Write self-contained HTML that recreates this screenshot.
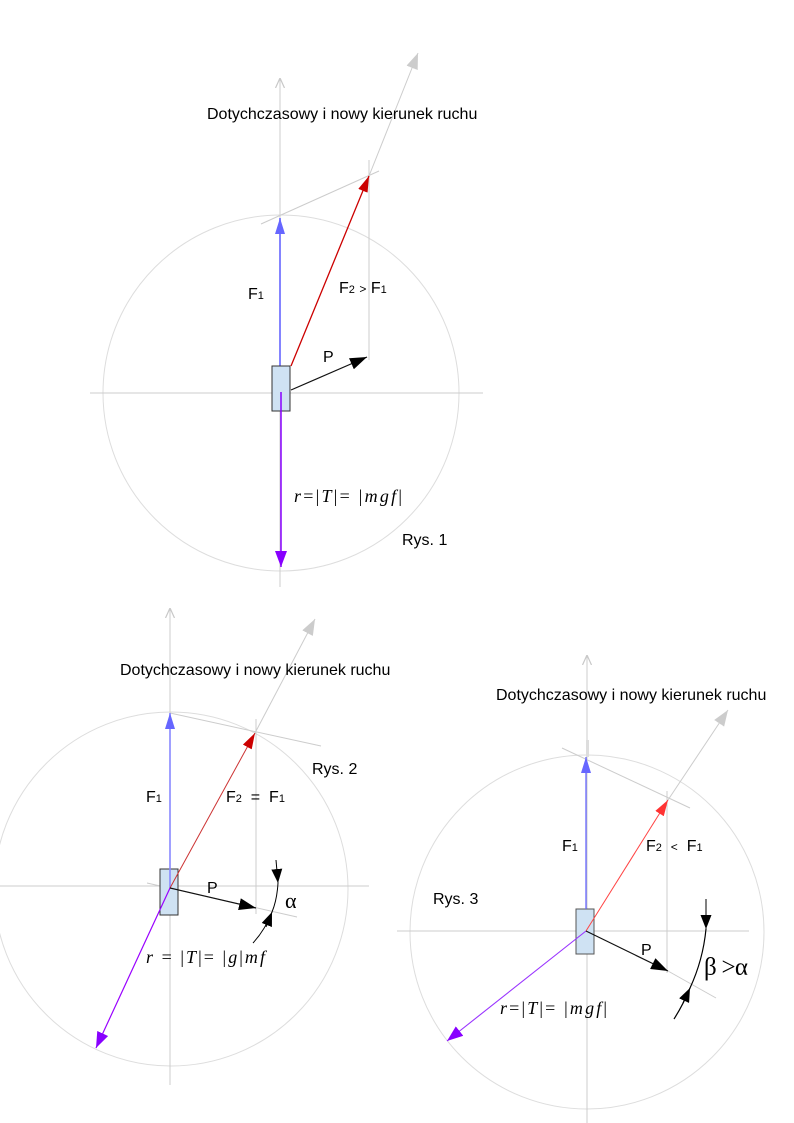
<!DOCTYPE html>
<html><head><meta charset="utf-8"><style>
html,body{margin:0;padding:0;background:#fff;}
svg{display:block;}
.t{font-family:"Liberation Sans",sans-serif;font-size:16px;fill:#000;}
.m{font-family:"Liberation Serif",serif;fill:#000;}
</style></head><body>
<svg width="794" height="1123" viewBox="0 0 794 1123" xmlns="http://www.w3.org/2000/svg">
<defs>
<marker id="open" markerWidth="10" markerHeight="12" refX="10" refY="5" orient="auto" markerUnits="userSpaceOnUse" viewBox="0 0 10 10"><path d="M0,0.5 L10,5 L0,9.5" fill="none" stroke="#c8c8c8" stroke-width="1.2"/></marker>
<marker id="mg" markerWidth="16" markerHeight="12" refX="16" refY="6" orient="auto" markerUnits="userSpaceOnUse"><path d="M0,0 L16,6 L0,12z" fill="#cccccc"/></marker>
<marker id="mb" markerWidth="16" markerHeight="10" refX="16" refY="5" orient="auto" markerUnits="userSpaceOnUse"><path d="M0,0 L16,5 L0,10z" fill="#6666ff"/></marker>
<marker id="mr" markerWidth="16" markerHeight="10" refX="16" refY="5" orient="auto" markerUnits="userSpaceOnUse"><path d="M0,0 L16,5 L0,10z" fill="#cc0000"/></marker>
<marker id="mr3" markerWidth="16" markerHeight="10" refX="16" refY="5" orient="auto" markerUnits="userSpaceOnUse"><path d="M0,0 L16,5 L0,10z" fill="#ff3333"/></marker>
<marker id="mp" markerWidth="16" markerHeight="12" refX="16" refY="6" orient="auto" markerUnits="userSpaceOnUse"><path d="M0,0 L16,6 L0,12z" fill="#8800ff"/></marker>
<marker id="mk" markerWidth="17" markerHeight="12" refX="17" refY="6" orient="auto" markerUnits="userSpaceOnUse"><path d="M0,0 L17,6 L0,12z" fill="#000"/></marker>
<marker id="mk2" markerWidth="14" markerHeight="11" refX="14" refY="5.5" orient="auto" markerUnits="userSpaceOnUse"><path d="M0,0 L14,5.5 L0,11z" fill="#000"/></marker>
</defs>

<!-- ============ Figure 1 ============ -->
<circle cx="281" cy="393" r="178" fill="none" stroke="#dddddd" stroke-width="1"/>
<line x1="90" y1="393" x2="483" y2="393" stroke="#cccccc"/>
<line x1="280" y1="587" x2="280" y2="78" stroke="#cccccc" marker-end="url(#open)"/>
<line x1="261" y1="224" x2="379" y2="171" stroke="#cccccc"/>
<line x1="369" y1="160" x2="369" y2="360" stroke="#cccccc"/>
<line x1="369" y1="176" x2="418" y2="53" stroke="#cccccc" marker-end="url(#mg)"/>
<line x1="291" y1="366" x2="369" y2="176" stroke="#cc0000" stroke-width="1.3" marker-end="url(#mr)"/>
<line x1="280" y1="366" x2="280" y2="218" stroke="#7777ff" stroke-width="1.8" marker-end="url(#mb)"/>
<rect x="272" y="366" width="18" height="45" fill="#cfe2f3" stroke="#333" stroke-width="1"/>
<line x1="281" y1="392" x2="281" y2="567" stroke="#8800ff" stroke-width="1.5" marker-end="url(#mp)"/>
<line x1="291" y1="390" x2="367" y2="357" stroke="#111" stroke-width="1.2" marker-end="url(#mk)"/>

<text class="t" x="207" y="119">Dotychczasowy i nowy kierunek ruchu</text>
<text class="t" x="248" y="299">F<tspan font-size="11">1</tspan></text>
<text class="t" x="339" y="293">F<tspan font-size="11">2</tspan>&#160;<tspan font-size="12">&gt;</tspan>&#160;F<tspan font-size="11">1</tspan></text>
<text class="t" x="323" y="362">P</text>
<text class="m" x="294" y="502" style="font-size:18px" textLength="108" lengthAdjust="spacing"><tspan font-style="italic">r</tspan>=|<tspan font-style="italic">T</tspan>|=&#160;|<tspan font-style="italic">mgf</tspan>|</text>
<text class="t" x="402" y="545">Rys. 1</text>

<!-- ============ Figure 2 ============ -->
<circle cx="171" cy="889" r="177" fill="none" stroke="#dddddd" stroke-width="1"/>
<line x1="0" y1="886" x2="369" y2="886" stroke="#cccccc"/>
<line x1="170" y1="1085" x2="170" y2="608" stroke="#cccccc" marker-end="url(#open)"/>
<line x1="170" y1="713" x2="321" y2="746" stroke="#cccccc"/>
<line x1="256" y1="719" x2="256" y2="914" stroke="#cccccc"/>
<line x1="255" y1="733" x2="315" y2="619" stroke="#cccccc" marker-end="url(#mg)"/>
<line x1="147" y1="883" x2="297" y2="917" stroke="#cccccc"/>
<rect x="160" y="869" width="18" height="46" fill="#cfe2f3" stroke="#333" stroke-width="1"/>
<line x1="170" y1="888" x2="170" y2="713" stroke="#8888ff" stroke-width="1.6" marker-end="url(#mb)"/>
<line x1="170" y1="888" x2="255" y2="733" stroke="#cc3333" stroke-width="1" marker-end="url(#mr)"/>
<line x1="170" y1="888" x2="96" y2="1048" stroke="#9900ff" stroke-width="1.2" marker-end="url(#mp)"/>
<line x1="170" y1="888" x2="256" y2="908" stroke="#111" stroke-width="1.2" marker-end="url(#mk)"/>
<line x1="276" y1="860" x2="278" y2="883" stroke="#000" stroke-width="1" marker-end="url(#mk2)"/>
<path d="M278,883 Q277,900 272,912 Q265,930 253,943" fill="none" stroke="#000" stroke-width="1"/>
<line x1="266" y1="927" x2="272" y2="912" stroke="#000" stroke-width="1" marker-end="url(#mk2)"/>

<text class="t" x="120" y="675">Dotychczasowy i nowy kierunek ruchu</text>
<text class="t" x="146" y="802">F<tspan font-size="11">1</tspan></text>
<text class="t" x="226" y="802">F<tspan font-size="11">2</tspan>&#160;&#160;=&#160;&#160;F<tspan font-size="11">1</tspan></text>
<text class="t" x="207" y="893">P</text>
<text class="m" x="285" y="908" style="font-size:22px">α</text>
<text class="m" x="146" y="963" style="font-size:18px" textLength="119" lengthAdjust="spacing"><tspan font-style="italic">r</tspan>&#160;=&#160;|<tspan font-style="italic">T</tspan>|=&#160;|<tspan font-style="italic">g</tspan>|<tspan font-style="italic">mf</tspan></text>
<text class="t" x="312" y="774">Rys. 2</text>

<!-- ============ Figure 3 ============ -->
<circle cx="587" cy="932" r="177" fill="none" stroke="#dddddd" stroke-width="1"/>
<line x1="397" y1="931" x2="749" y2="931" stroke="#cccccc"/>
<line x1="587" y1="1123" x2="587" y2="655" stroke="#cccccc" marker-end="url(#open)"/>
<rect x="586" y="740" width="3" height="17" fill="#dddddd"/>
<line x1="562" y1="748" x2="690" y2="808" stroke="#cccccc"/>
<line x1="667" y1="791" x2="667" y2="973" stroke="#cccccc"/>
<line x1="668" y1="800" x2="728" y2="710" stroke="#cccccc" marker-end="url(#mg)"/>
<line x1="668" y1="971" x2="716" y2="998" stroke="#cccccc"/>
<rect x="576" y="909" width="18" height="45" fill="#cfe2f3" stroke="#555" stroke-width="1"/>
<line x1="586" y1="909" x2="586" y2="757" stroke="#6666ff" stroke-width="1.3" marker-end="url(#mb)"/>
<line x1="586" y1="931" x2="668" y2="800" stroke="#ff4444" stroke-width="1" marker-end="url(#mr3)"/>
<line x1="586" y1="931" x2="447" y2="1041" stroke="#9933ff" stroke-width="1.1" marker-end="url(#mp)"/>
<line x1="586" y1="931" x2="668" y2="971" stroke="#111" stroke-width="1.2" marker-end="url(#mk)"/>
<line x1="706" y1="899" x2="706" y2="929" stroke="#000" stroke-width="1" marker-end="url(#mk2)"/>
<path d="M706,929 Q703,960 690,988 Q683,1005 674,1019" fill="none" stroke="#000" stroke-width="1.2"/>
<line x1="683" y1="1003" x2="690" y2="988" stroke="#000" stroke-width="1" marker-end="url(#mk2)"/>

<text class="t" x="496" y="700">Dotychczasowy i nowy kierunek ruchu</text>
<text class="t" x="562" y="851">F<tspan font-size="11">1</tspan></text>
<text class="t" x="646" y="851">F<tspan font-size="11">2</tspan>&#160;&#160;<tspan font-size="12">&lt;</tspan>&#160;&#160;F<tspan font-size="11">1</tspan></text>
<text class="t" x="641" y="955">P</text>
<text class="t" x="433" y="904">Rys. 3</text>
<text class="m" x="704" y="975" style="font-size:25px" textLength="44" lengthAdjust="spacing">β &gt;α</text>
<text class="m" x="500" y="1014" style="font-size:18px" textLength="107" lengthAdjust="spacing"><tspan font-style="italic">r</tspan>=|<tspan font-style="italic">T</tspan>|=&#160;|<tspan font-style="italic">mgf</tspan>|</text>
</svg>
</body></html>
